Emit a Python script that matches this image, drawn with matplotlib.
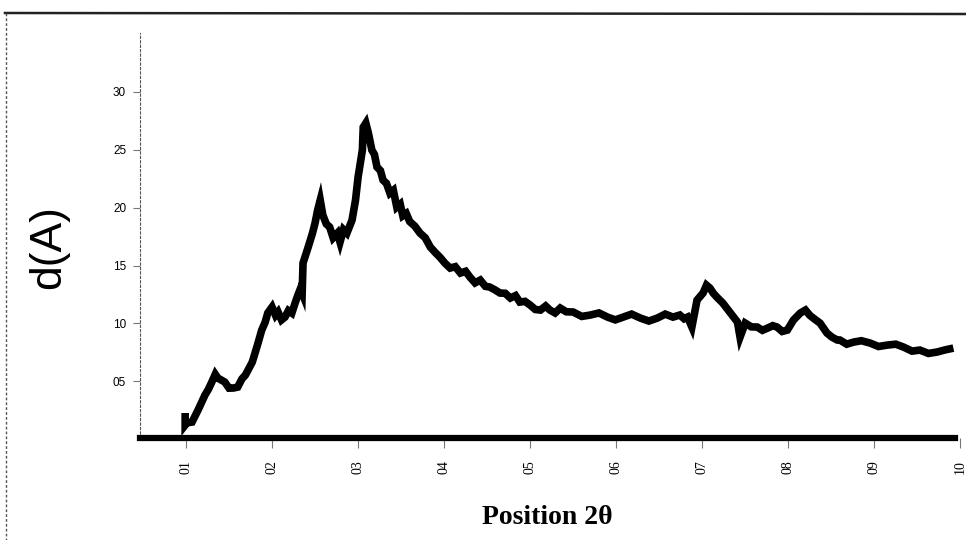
import matplotlib
matplotlib.use("Agg")
import matplotlib.pyplot as plt
from matplotlib.lines import Line2D

# scan trace: position (2θ tick units) vs d(A)
position = [0.99, 0.99, 1.01, 1.07, 1.14, 1.22, 1.26, 1.30, 1.34, 1.37,
            1.41, 1.45, 1.50, 1.55, 1.60, 1.65, 1.69, 1.73, 1.77, 1.83,
            1.88, 1.92, 1.95, 2.00, 2.04, 2.07, 2.11, 2.15, 2.19, 2.23,
            2.27, 2.30, 2.33, 2.35, 2.36, 2.42, 2.47, 2.50, 2.53, 2.56,
            2.59, 2.63, 2.67, 2.71, 2.76, 2.79, 2.83, 2.87, 2.93, 2.97,
            3.00, 3.05, 3.06, 3.09, 3.12, 3.16, 3.19, 3.22, 3.26, 3.29,
            3.33, 3.37, 3.41, 3.45, 3.49, 3.52, 3.56, 3.60, 3.66, 3.72,
            3.78, 3.84, 3.90, 3.95, 4.01, 4.07, 4.13, 4.19, 4.25, 4.30,
            4.36, 4.42, 4.48, 4.53, 4.59, 4.65, 4.71, 4.77, 4.83, 4.88,
            4.94, 5.00, 5.06, 5.12, 5.18, 5.23, 5.29, 5.35, 5.42, 5.50,
            5.60, 5.70, 5.80, 5.90, 5.99, 6.08, 6.18, 6.28, 6.38, 6.48,
            6.57, 6.66, 6.74, 6.79, 6.83, 6.88, 6.94, 7.01, 7.05, 7.09,
            7.13, 7.17, 7.24, 7.33, 7.41, 7.44, 7.50, 7.57, 7.64, 7.70,
            7.76, 7.82, 7.87, 7.93, 7.99, 8.06, 8.14, 8.20, 8.25, 8.29,
            8.37, 8.45, 8.51, 8.57, 8.60, 8.68, 8.76, 8.85, 8.95, 9.05,
            9.15, 9.25, 9.34, 9.44, 9.53, 9.63, 9.73, 9.82, 9.92]
d_value = [2.25, 1.21, 1.40, 1.47, 2.51, 3.80, 4.30, 4.93, 5.60, 5.27,
           5.10, 4.93, 4.40, 4.41, 4.49, 5.20, 5.53, 6.10, 6.65, 8.12,
           9.42, 10.10, 10.89, 11.41, 10.70, 10.98, 10.30, 10.54, 11.10, 10.89,
           11.80, 12.44, 13.00, 12.62, 15.21, 16.59, 17.80, 18.67, 19.79, 20.65,
           19.36, 18.60, 18.32, 17.40, 17.80, 17.02, 18.10, 17.80, 18.93, 20.65,
           22.64, 24.98, 26.96, 27.31, 26.44, 24.98, 24.60, 23.51, 23.20, 22.38,
           22.10, 21.26, 21.50, 20.05, 20.30, 19.30, 19.50, 18.80, 18.40, 17.80,
           17.40, 16.59, 16.10, 15.73, 15.20, 14.78, 14.90, 14.35, 14.50, 14.00,
           13.50, 13.74, 13.20, 13.14, 12.90, 12.62, 12.60, 12.19, 12.40, 11.84,
           11.90, 11.58, 11.20, 11.15, 11.50, 11.15, 10.90, 11.32, 11.00, 10.98,
           10.60, 10.72, 10.90, 10.54, 10.30, 10.54, 10.80, 10.46, 10.20, 10.46,
           10.80, 10.54, 10.72, 10.40, 10.54, 9.68, 12.01, 12.62, 13.30, 13.05,
           12.60, 12.27, 11.75, 10.89, 10.11, 8.81, 10.02, 9.70, 9.68, 9.40,
           9.59, 9.80, 9.68, 9.30, 9.42, 10.28, 10.89, 11.15, 10.70, 10.46,
           10.02, 9.16, 8.80, 8.56, 8.56, 8.20, 8.38, 8.50, 8.30, 8.00,
           8.12, 8.20, 7.95, 7.60, 7.69, 7.40, 7.52, 7.70, 7.86]

x_ticks = [1, 2, 3, 4, 5, 6, 7, 8, 9, 10]
x_tick_labels = ["01", "02", "03", "04", "05", "06", "07", "08", "09", "10"]
y_ticks = [5, 10, 15, 20, 25, 30]
y_tick_labels = ["05", "10", "15", "20", "25", "30"]

fig = plt.figure(figsize=(9.66, 5.4), dpi=100)
ax = fig.add_axes([140 / 966, 1 - 438 / 540, 822 / 966, 405 / 540])

ax.plot(position, d_value, color="black", linewidth=5.5,
        solid_joinstyle="miter", solid_capstyle="butt")

ax.set_xlim(0.465, 10.02)
ax.set_ylim(0.09, 35.1)

ax.spines["top"].set_visible(False)
ax.spines["right"].set_visible(False)
ax.spines["left"].set_linestyle((0, (2, 2)))
ax.spines["left"].set_color("#555555")
ax.spines["left"].set_linewidth(0.8)
ax.spines["bottom"].set_linewidth(4.5)
ax.spines["bottom"].set_bounds(0.465, 9.94)

ax.set_xticks(x_ticks)
ax.set_xticklabels(x_tick_labels, rotation=90, family="Liberation Serif",
                   fontsize=10)
ax.set_yticks(y_ticks)
ax.set_yticklabels(y_tick_labels, family="Liberation Sans", fontsize=8.5)
ax.tick_params(axis="x", length=7, width=0.8, color="#777777", pad=9)
ax.tick_params(axis="y", length=5, width=0.8, color="#777777", pad=5)

ax.set_xlabel("Position 2θ", family="Liberation Serif", fontweight="bold",
              fontsize=20)
ax.xaxis.set_label_coords(0.495, -0.165)
ax.set_ylabel("d(A)", family="Liberation Sans", fontsize=32)
ax.yaxis.set_label_coords(-0.086, 0.472)

# frame of the scanned page
fig.add_artist(Line2D([5 / 966, 1], [1 - 13 / 540, 1 - 14 / 540],
                      transform=fig.transFigure, color="#222222", linewidth=1.8))
fig.add_artist(Line2D([6 / 966, 6 / 966], [1 - 13 / 540, 0],
                      transform=fig.transFigure, color="#555555", linewidth=1,
                      linestyle=(0, (2, 1.5))))

fig.savefig("out.png", dpi=100)
